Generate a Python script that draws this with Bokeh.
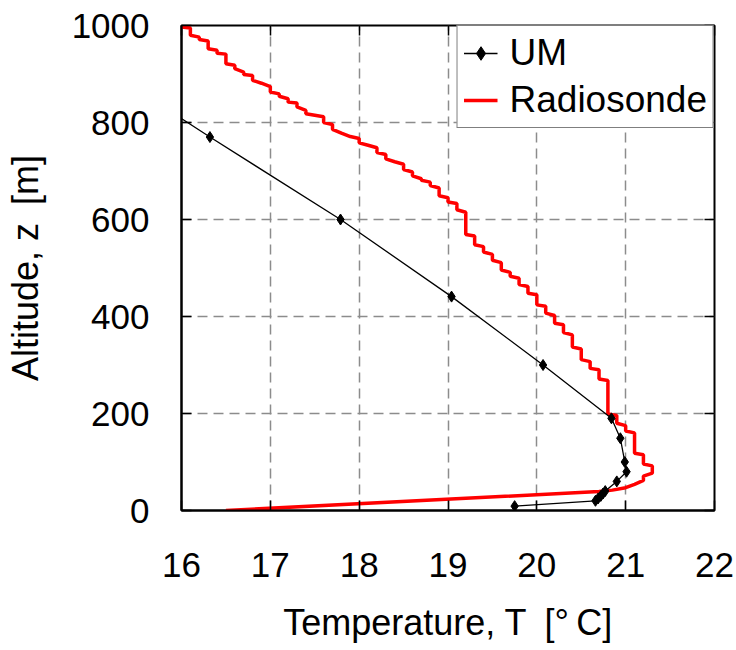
import numpy as np
from bokeh.plotting import figure
from bokeh.models import Range1d, LinearAxis, FixedTicker, Legend, LegendItem, ColumnDataSource
from bokeh.embed import file_html
from bokeh.resources import INLINE

# ---------------- data ----------------
x_ticks = [16, 17, 18, 19, 20, 21, 22]
y_ticks = [0, 200, 400, 600, 800, 1000]

# UM model profile
um_T = [14.8, 16.32, 17.79, 19.04, 20.07, 20.84, 20.94, 20.99, 21.01, 20.90,
        20.77, 20.745, 20.72, 20.69, 20.66, 19.75]
um_z = [950, 770, 600, 441, 300, 190, 149, 100, 80, 60,
        40, 35, 30, 25, 20, 9]

# Radiosonde profile (0.1 degC resolution -> staircase)
rs_T = [16.0, 16.0, 16.1, 16.1, 16.2, 16.2, 16.3, 16.3, 16.4, 16.4,
        16.5, 16.5, 16.6, 16.6, 16.7, 16.7, 16.8, 16.8, 16.9,
        17.0, 17.0, 17.1, 17.1, 17.2, 17.2, 17.3, 17.3, 17.4, 17.4, 17.5,
        17.6, 17.6, 17.7, 17.7, 17.8, 17.9, 18.0, 18.0, 18.1,
        18.2, 18.2, 18.3, 18.3, 18.4, 18.5, 18.5, 18.6, 18.6, 18.7, 18.7,
        18.8, 18.8, 18.9, 18.9, 19.0, 19.0, 19.1, 19.1, 19.2, 19.2,
        19.3, 19.3, 19.4, 19.4, 19.5, 19.5, 19.6, 19.6, 19.7, 19.7,
        19.8, 19.8, 19.9, 19.9, 20.0, 20.0, 20.1, 20.1, 20.2, 20.2,
        20.3, 20.3, 20.4, 20.4, 20.5, 20.5, 20.6, 20.6, 20.7, 20.7,
        20.8, 20.8, 20.9, 20.9, 21.0, 21.0, 21.1, 21.1, 21.2, 21.2,
        21.3, 21.3, 21.2, 21.2, 21.1, 21.0, 20.85, 20.7, 16.5]
rs_z = [1009, 997, 995, 980, 976, 971, 968, 952, 949, 943,
        941, 921, 918, 911, 904, 899, 897, 887, 881,
        874, 863, 859, 854, 849, 842, 840, 832, 825, 818, 815,
        812, 800, 796, 786, 778, 771, 767, 758, 753,
        748, 738, 734, 725, 719, 714, 703, 698, 690, 684, 681,
        677, 670, 665, 649, 645, 636, 633, 620, 615, 569,
        566, 548, 544, 533, 528, 516, 511, 496, 491, 483,
        479, 466, 462, 448, 445, 424, 421, 407, 402, 386,
        383, 367, 362, 337, 333, 311, 307, 293, 290, 271,
        268, 199, 196, 180, 175, 164, 160, 118, 115, 96,
        92, 77, 71, 62, 54, 47, 42, 39, 0]

FONT = "Liberation Sans"
FS = "35px"
LFS = "36px"

p = figure(frame_width=533, frame_height=485,
           x_range=Range1d(16, 22), y_range=Range1d(0, 1000),
           output_backend="svg", toolbar_location=None,
           min_border_left=181, min_border_right=22,
           min_border_top=25, min_border_bottom=140,
           background_fill_color="white", border_fill_color="white")

# grid
for g in (p.xgrid, p.ygrid):
    g.grid_line_color = "#8c8c8c"
    g.grid_line_dash = "10 6"
    g.grid_line_width = 1.5
p.xgrid.ticker = FixedTicker(ticks=x_ticks)
p.ygrid.ticker = FixedTicker(ticks=y_ticks)

p.outline_line_color = "black"
p.outline_line_width = 2
p.outline_line_alpha = 1.0

# axes
p.xaxis.ticker = FixedTicker(ticks=x_ticks)
p.yaxis.ticker = FixedTicker(ticks=y_ticks)
for ax in (p.xaxis, p.yaxis):
    ax.axis_line_color = "black"
    ax.axis_line_width = 2
    ax.major_tick_in = 10
    ax.major_tick_out = 0
    ax.major_tick_line_color = "black"
    ax.major_tick_line_width = 1.5
    ax.minor_tick_line_color = None
    ax.major_label_text_font = FONT
    ax.major_label_text_font_size = FS
    ax.major_label_text_color = "black"
    ax.axis_label_text_font = FONT
    ax.axis_label_text_font_size = LFS
    ax.axis_label_text_font_style = "normal"
    ax.axis_label_text_color = "black"
p.xaxis.major_label_standoff = 42
p.yaxis.major_label_standoff = 32
p.xaxis.axis_label = "Temperature, T\u2002[°\u2009C]"
p.yaxis.axis_label = "Altitude, z\u2002[m]"
p.xaxis.axis_label_standoff = 22
p.yaxis.axis_label_standoff = 23

# tick marks on top and right
top_ax = LinearAxis(ticker=FixedTicker(ticks=x_ticks), axis_line_color=None,
                    major_tick_in=10, major_tick_out=0, minor_tick_line_color=None,
                    major_tick_line_width=1.5, major_label_text_color=None,
                    major_label_text_font_size="1px", major_label_standoff=0)
right_ax = LinearAxis(ticker=FixedTicker(ticks=y_ticks), axis_line_color=None,
                      major_tick_in=10, major_tick_out=0, minor_tick_line_color=None,
                      major_tick_line_width=1.5, major_label_text_color=None,
                      major_label_text_font_size="1px", major_label_standoff=0)
p.add_layout(top_ax, "above")
p.add_layout(right_ax, "right")

# data renderers
rs_src = ColumnDataSource(dict(T=rs_T, z=rs_z))
um_src = ColumnDataSource(dict(T=um_T, z=um_z))
r_rs = p.line("T", "z", source=rs_src, line_color="#ff0000", line_width=3.5)
r_um = p.line("T", "z", source=um_src, line_color="black", line_width=1.3)
r_umm = p.scatter("T", "z", source=um_src, marker="diamond",
                  size=11, fill_color="black", line_color="black")

legend = Legend(items=[LegendItem(label="UM", renderers=[r_um, r_umm]),
                       LegendItem(label="Radiosonde", renderers=[r_rs])],
                location="top_right", margin=0, padding=6, spacing=5,
                glyph_width=34, glyph_height=40, label_height=42,
                label_standoff=12,
                label_text_font=FONT, label_text_font_size="37px",
                label_text_color="black",
                border_line_color="black", border_line_width=1.5,
                background_fill_color="white", background_fill_alpha=1.0)
p.add_layout(legend)

open("out.html", "w").write(file_html(p, INLINE))
